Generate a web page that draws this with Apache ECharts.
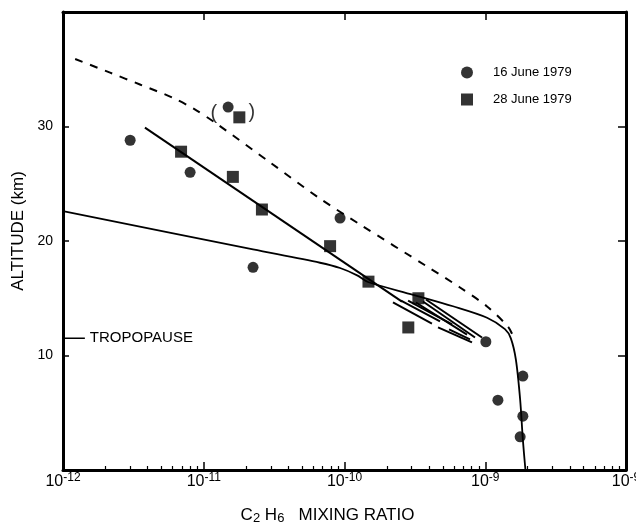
<!DOCTYPE html>
<html>
<head>
<meta charset="utf-8">
<script src="https://cdn.jsdelivr.net/npm/echarts@6/dist/echarts.min.js"></script>
<style>
  html, body { margin: 0; padding: 0; background: #fff; }
  #chart { width: 636px; height: 528px; }
</style>
</head>
<body>
<div id="chart"></div>
<script>
// Ethane (C2H6) mixing ratio profiles versus altitude

// Measurements, [mixing ratio, altitude km]
const circles16June = [
  [3.0e-12, 28.8], [8.0e-12, 26.0], [1.49e-11, 31.7], [2.24e-11, 17.7],
  [9.3e-11, 22.0], [1.01e-9, 11.2], [1.85e-9, 8.2], [1.23e-9, 6.1],
  [1.85e-9, 4.7], [1.77e-9, 2.9]
];
const squares28June = [
  [6.9e-12, 27.8], [1.79e-11, 30.8], [1.61e-11, 25.6], [2.59e-11, 22.75],
  [7.9e-11, 19.55], [1.48e-10, 16.45], [3.35e-10, 15.0], [2.84e-10, 12.45]
];

// Straight fit through the stratospheric points
const fitLine = [[3.82e-12, 29.9], [2.56e-10, 14.7]];

// Model profiles
const modelCurve = [
  [1e-12, 22.6], [2.24e-11, 19.26], [6.7e-11, 18.1], [9.3e-11, 17.64],
  [1.23e-10, 17.0], [1.47e-10, 16.42], [3.08e-10, 15.3], [5.9e-10, 14.3],
  [1.03e-9, 13.3], [1.38e-9, 12.3], [1.52e-9, 11.5], [1.65e-9, 9.65],
  [1.77e-9, 6.15], [1.85e-9, 2.65], [1.93e-9, 0]
];
const dashedCurve = [
  [1.22e-12, 35.9], [2.16e-12, 34.7], [3.52e-12, 33.67], [6.05e-12, 32.5],
  [8.53e-12, 31.53], [1.2e-11, 30.35], [2.96e-11, 26.86], [6.7e-11, 23.7],
  [1.29e-10, 21.44], [3.86e-10, 17.77], [6.62e-10, 15.94], [1.03e-9, 14.28],
  [1.45e-9, 12.53], [1.55e-9, 11.9]
];

// Hatched band of aircraft measurements
const hatchStrokes = [
  [[2.21e-10, 14.63], [4.18e-10, 12.79]],
  [[2.52e-10, 14.80], [4.77e-10, 12.97]],
  [[2.83e-10, 14.80], [5.81e-10, 12.71]],
  [[3.22e-10, 14.63], [7.42e-10, 11.83]],
  [[3.61e-10, 14.72], [8.46e-10, 11.57]],
  [[3.79e-10, 14.89], [9.48e-10, 11.57]],
  [[4.62e-10, 12.45], [8.05e-10, 11.14]],
  [[5.53e-10, 12.28], [7.79e-10, 11.40]]
];

// Tropopause marker and bracketed points
const tropopauseTick = [[1.03e-12, 11.5], [1.43e-12, 11.5]];
const parenMarks = [['(', 1.18e-11, 31.1], [')', 2.2e-11, 31.2]];

// Axis ticks and labels
const xDecades = [1e-12, 1e-11, 1e-10, 1e-9, 1e-8];
const xTickExponents = ['-12', '-11', '-10', '-9', '-9'];
const yTickLabels = [10, 20, 30];
const minorMultipliers = [2, 3, 4, 5, 6, 7, 8, 9];
const xMinorTicks = [];
xDecades.slice(0, 4).forEach(d => minorMultipliers.forEach(m => xMinorTicks.push(m * d)));

const FONT = '"Liberation Sans", Arial, Helvetica, sans-serif';
const INK = '#000';

const chart = echarts.init(document.getElementById('chart'), null, { renderer: 'canvas' });

const frameLine = { show: true, onZero: false, lineStyle: { color: INK, width: 3 } };

const hatchSeries = hatchStrokes.map(s => ({
  type: 'line', xAxisIndex: 0, yAxisIndex: 0, data: s, symbol: 'none',
  lineStyle: { color: INK, width: 2 }, silent: true, z: 3
}));

const option = {
  backgroundColor: '#fff',
  animation: false,
  textStyle: { fontFamily: FONT, color: INK },
  grid: { left: 63, right: 10, top: 12, bottom: 58, outerBoundsMode: 'none', containLabel: false },
  legend: {
    orient: 'vertical', left: 456, top: 61, itemWidth: 12, itemHeight: 12, itemGap: 14,
    textStyle: { fontFamily: FONT, fontSize: 13, color: INK, padding: [0, 0, 0, 15] },
    data: [{ name: '16 June 1979', icon: 'circle' }, { name: '28 June 1979', icon: 'rect' }]
  },
  xAxis: [
    {
      type: 'log', logBase: 10, min: 1e-12, max: 1e-8, position: 'bottom',
      axisLine: frameLine,
      axisTick: { show: true, inside: true, length: 8, lineStyle: { color: INK, width: 1.5 } },
      splitLine: { show: false },
      axisLabel: {
        margin: 2, color: INK, hideOverlap: false,
        formatter: v => {
          const i = xDecades.findIndex(d => Math.abs(Math.log10(d) - Math.log10(v)) < 1e-6);
          return i < 0 ? '' : '{b|10}{s|' + xTickExponents[i] + '}';
        },
        rich: {
          b: { fontFamily: FONT, fontSize: 16, color: INK, lineHeight: 18, verticalAlign: 'bottom' },
          s: { fontFamily: FONT, fontSize: 12, color: INK, lineHeight: 12, verticalAlign: 'top' }
        }
      },
      name: '{n|C}{d|2}{n| H}{d|6}{n|   MIXING RATIO}',
      nameLocation: 'middle', nameGap: 37,
      nameTextStyle: {
        padding: [0, 34, 0, 0],
        rich: {
          n: { fontFamily: FONT, fontSize: 17, color: INK, lineHeight: 18, verticalAlign: 'top' },
          d: { fontFamily: FONT, fontSize: 13, color: INK, lineHeight: 14, verticalAlign: 'bottom' }
        }
      }
    },
    {
      type: 'log', logBase: 10, min: 1e-12, max: 1e-8, position: 'bottom',
      axisLine: { show: false },
      axisTick: { show: true, inside: true, length: 4, customValues: xMinorTicks, lineStyle: { color: INK, width: 1.2 } },
      axisLabel: { show: false },
      splitLine: { show: false }
    },
    {
      type: 'log', logBase: 10, min: 1e-12, max: 1e-8, position: 'top',
      axisLine: frameLine,
      axisTick: { show: true, inside: true, length: 8, lineStyle: { color: INK, width: 1.5 } },
      axisLabel: { show: false },
      splitLine: { show: false }
    }
  ],
  yAxis: [
    {
      type: 'value', min: 0, max: 40, interval: 10, position: 'left',
      axisLine: frameLine,
      axisTick: { show: true, inside: true, length: 6, lineStyle: { color: INK, width: 1.5 } },
      splitLine: { show: false },
      axisLabel: {
        margin: 10, fontFamily: FONT, fontSize: 14, color: INK,
        formatter: v => (yTickLabels.indexOf(v) >= 0 ? String(v) : '')
      },
      name: 'ALTITUDE (km)', nameLocation: 'middle', nameRotate: 90, nameGap: 35,
      nameTextStyle: { fontFamily: FONT, fontSize: 17, color: INK, padding: [0, 0, 0, 20] }
    },
    {
      type: 'value', min: 0, max: 40, interval: 10, position: 'right',
      axisLine: frameLine,
      axisTick: { show: true, inside: true, length: 8, lineStyle: { color: INK, width: 1.5 } },
      splitLine: { show: false },
      axisLabel: { show: false }
    }
  ],
  series: [
    {
      name: 'model', type: 'line', data: modelCurve, symbol: 'none', smooth: 0.3,
      lineStyle: { color: INK, width: 1.8, join: 'round' }, silent: true, z: 3
    },
    {
      name: 'model dashed', type: 'line', data: dashedCurve, symbol: 'none', smooth: 0.3,
      lineStyle: { color: INK, width: 2, type: [8, 8] }, silent: true, z: 3
    },
    {
      name: 'fit', type: 'line', data: fitLine, symbol: 'none',
      lineStyle: { color: INK, width: 2 }, silent: true, z: 3
    },
    ...hatchSeries,
    {
      name: 'tropopause', type: 'line', data: tropopauseTick, symbol: 'none',
      lineStyle: { color: INK, width: 1.5 }, silent: true,
      endLabel: { show: true, formatter: 'TROPOPAUSE', distance: 5, fontFamily: FONT, fontSize: 15, color: INK }
    },
    {
      name: 'brackets', type: 'scatter', symbol: 'circle', symbolSize: 1, silent: true,
      itemStyle: { color: 'rgba(0,0,0,0)' },
      data: parenMarks.map(p => ({ value: [p[1], p[2]], label: { formatter: p[0] } })),
      label: { show: true, position: 'inside', fontFamily: FONT, fontSize: 20, color: INK }
    },
    {
      name: '16 June 1979', type: 'scatter', symbol: 'circle', symbolSize: 11,
      data: circles16June, itemStyle: { color: INK }, z: 5
    },
    {
      name: '28 June 1979', type: 'scatter', symbol: 'rect', symbolSize: 12,
      data: squares28June, itemStyle: { color: INK }, z: 5
    }
  ]
};

chart.setOption(option);
</script>
</body>
</html>
